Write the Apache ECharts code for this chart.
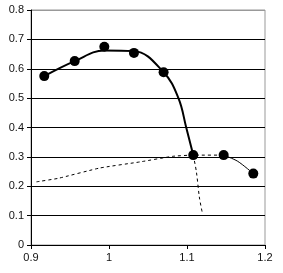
<!DOCTYPE html>
<html><head><meta charset="utf-8">
<script src="https://cdn.jsdelivr.net/npm/echarts@6/dist/echarts.min.js"></script>
<style>html,body{margin:0;padding:0;background:#fff}#c{width:283px;height:273px}</style>
</head><body><div id="c"></div>
<script>
// measured points (markers)
var pointsX = [0.917, 0.956, 0.994, 1.032, 1.070, 1.108, 1.147, 1.185];
var pointsY = [0.575, 0.626, 0.675, 0.654, 0.588, 0.306, 0.306, 0.243];
// upper solid branch (through first six points)
var upperX = [0.917, 0.956, 0.994, 1.032, 1.070, 1.089, 1.099, 1.108];
var upperY = [0.575, 0.626, 0.662, 0.660, 0.588, 0.500, 0.400, 0.306];
// lower dashed branch
var lowerX = [0.907, 0.935, 0.988, 1.040, 1.082, 1.108, 1.147];
var lowerY = [0.215, 0.227, 0.262, 0.283, 0.302, 0.306, 0.306];
// tail solid thin
var tailX = [1.147, 1.165, 1.185];
var tailY = [0.306, 0.285, 0.243];
// descending dashed branch
var dropX = [1.108, 1.112, 1.116, 1.120];
var dropY = [0.306, 0.250, 0.160, 0.105];
var xTicks = [0.9, 1.0, 1.1, 1.2];
var yTicks = [0, 0.1, 0.2, 0.3, 0.4, 0.5, 0.6, 0.7, 0.8];

function zip(a, b) { return a.map(function (v, i) { return [v, b[i]]; }); }

var chart = echarts.init(document.getElementById('c'));
var font = 'Liberation Sans, Arial, sans-serif';
chart.setOption({
  animation: false,
  grid: { left: 31, right: 18, top: 10, bottom: 28, show: true, borderColor: '#999', borderWidth: 1 },
  xAxis: {
    type: 'value', min: 0.9, max: 1.2, interval: 0.1,
    axisLine: { lineStyle: { color: '#000', width: 1 } },
    axisTick: { show: true, length: 4, lineStyle: { color: '#000' } },
    splitLine: { show: false },
    axisLabel: { color: '#111', fontFamily: font, fontSize: 11, margin: 7,
      formatter: function (v) { return String(Math.round(v * 10) / 10); } }
  },
  yAxis: {
    type: 'value', min: 0, max: 0.8, interval: 0.1,
    axisLine: { show: true, lineStyle: { color: '#000', width: 1 } },
    axisTick: { show: true, length: 4, lineStyle: { color: '#000' } },
    splitLine: { show: true, lineStyle: { color: ['#000','#000','#000','#000','#000','#000','#000','#000','#999'], width: 1 } },
    axisLabel: { color: '#111', fontFamily: font, fontSize: 11, margin: 7,
      formatter: function (v) { return String(Math.round(v * 10) / 10); } }
  },
  series: [
    { type: 'line', data: zip(lowerX, lowerY), smooth: 0.15, symbol: 'none',
      lineStyle: { color: '#000', width: 1, type: [3, 3] } },
    { type: 'line', data: zip(dropX, dropY), smooth: 0.3, symbol: 'none',
      lineStyle: { color: '#000', width: 1, type: [3, 3] } },
    { type: 'line', data: zip(tailX, tailY), smooth: 0.3, symbol: 'none',
      lineStyle: { color: '#000', width: 1 } },
    { type: 'line', data: zip(upperX, upperY), smooth: 0.4, symbol: 'none',
      lineStyle: { color: '#000', width: 2 } },
    { type: 'scatter', data: zip(pointsX, pointsY), symbol: 'circle', symbolSize: 10,
      itemStyle: { color: '#000', opacity: 1 } }
  ]
});
</script></body></html>
